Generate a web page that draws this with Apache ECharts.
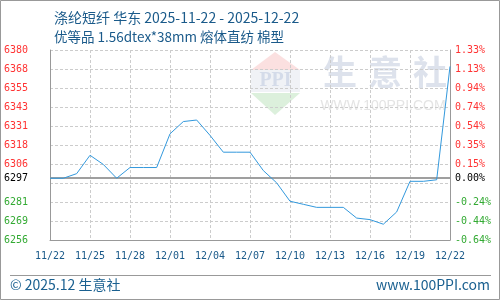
<!DOCTYPE html>
<html><head><meta charset="utf-8">
<script src="https://cdn.jsdelivr.net/npm/echarts@6/dist/echarts.min.js"></script>
<style>html,body{margin:0;padding:0;background:#fff}#c{width:500px;height:300px}</style>
</head><body><div id="c"></div>
<script>
const dates = ['11/22','11/23','11/24','11/25','11/26','11/27','11/28','11/29','11/30','12/01','12/02','12/03','12/04','12/05','12/06','12/07','12/08','12/09','12/10','12/11','12/12','12/13','12/14','12/15','12/16','12/17','12/18','12/19','12/20','12/21','12/22'];
const prices = [6297,6297,6300,6312,6306,6297,6304,6304,6304,6326,6334,6335,6325,6314,6314,6314,6302,6294,6282,6280,6278,6278,6278,6271,6270,6267,6275,6295,6295,6296,6370];
const basePrice = 6297;
const yMin = 6256.7, yMax = 6380.7;
const leftLabels = ['6256','6269','6281','','6306','6318','6331','6343','6355','6368','6380'];
const rightLabels = ['-0.64%','-0.44%','-0.24%','','0.15%','0.35%','0.54%','0.74%','0.94%','1.13%','1.33%'];
const titleLine1 = '涤纶短纤 华东 2025-11-22 - 2025-12-22';
const titleLine2 = '优等品 1.56dtex*38mm 熔体直纺 棉型';

const RED = '#ff3333', GREEN = '#33aa33', BLUE_TXT = '#1a5a8a';
const mono = 'DejaVu Sans Mono';
const chart = echarts.init(document.getElementById('c'), null, {renderer:'canvas'});
chart.setOption({
  animation: false,
  backgroundColor: '#fff',
  title: [
    {text: titleLine1, left: 49, top: 6, textStyle:{fontFamily:'Noto Sans CJK SC', fontSize:14, fontWeight:'normal', color: BLUE_TXT}},
    {text: titleLine2, left: 49, top: 25, textStyle:{fontFamily:'Noto Sans CJK SC', fontSize:13.5, fontWeight:'normal', color: BLUE_TXT}}
  ],
  grid: {left: 50, right: 50, top: 50, bottom: 60},
  xAxis: {
    type: 'category', data: dates, boundaryGap: false,
    axisLine: {lineStyle: {color: '#999'}},
    axisTick: {show: false},
    axisLabel: {interval: 2, color: BLUE_TXT, fontFamily: mono, fontSize: 10, margin: 11},
    splitLine: {show: true, interval: 2, lineStyle: {color: '#ccc', type: [3,2]}}
  },
  yAxis: [
    {type:'value', min: yMin, max: yMax, show: false},
    {type:'value', min: 0, max: 10, interval: 1, position: 'left',
     axisLine: {show: true, lineStyle: {color: '#999'}}, axisTick: {show:false},
     axisLabel: {margin: 22, fontFamily: mono, fontSize: 10,
       formatter: v => leftLabels[Math.round(v)],
       color: v => (v > 3 ? RED : GREEN)},
     splitLine: {show: true, lineStyle: {color: '#ccc', type: [3,2]}}},
    {type:'value', min: 0, max: 10, interval: 1, position: 'right',
     axisLine: {show: true, lineStyle: {color: '#999'}}, axisTick: {show:false},
     axisLabel: {margin: 5, fontFamily: mono, fontSize: 10,
       formatter: v => rightLabels[Math.round(v)],
       color: v => (v > 3 ? RED : GREEN)},
     splitLine: {show: false}}
  ],
  series: [{
    type: 'line', yAxisIndex: 0, data: prices, symbol: 'none',
    lineStyle: {color: '#3399dd', width: 1},
    z: 5,
    markLine: {
      silent: true, symbol: 'none', animation: false,
      lineStyle: {color: '#999', type: 'solid', width: 1.5},
      data: [
        {yAxis: basePrice, label: {show: true, position: 'start', distance: 22, formatter: String(basePrice), color: '#000', fontFamily: mono, fontSize: 10}},
        {yAxis: basePrice, label: {show: true, position: 'end', distance: 5, formatter: '0.00%', color: '#000', fontFamily: mono, fontSize: 10}}
      ]
    }
  }],
  graphic: [
    {type:'rect', shape:{x:0.5,y:0.5,width:499,height:299}, style:{fill:'none', stroke:'#999', lineWidth:1}, z: 100},
    {type:'line', shape:{x1:10,y1:275.5,x2:491,y2:275.5}, style:{stroke:'#999', lineWidth:1}},
    {type:'text', left: 10, top: 278, style:{text:'© 2025.12 生意社', fill:'#1a6090', font:'14px "Noto Sans CJK SC"'}},
    {type:'text', right: 10, top: 278, style:{text:'www.100PPI.com', fill:'#1a6090', font:'14px "Noto Sans CJK SC"'}},
    {type:'group', z: -1, silent: true, children: [
      {type:'polygon', shape:{points:[[251,70],[275,52],[300,70]]}, style:{fill:'#fbe0e0'}},
      {type:'rect', shape:{x:251,y:70,width:49,height:22}, style:{fill:'#f0f2f6'}},
      {type:'text', style:{x:275.5,y:81,text:'PPI', fill:'#d4dbe9', font:'bold 20px "Liberation Serif"', align:'center', verticalAlign:'middle'}},
      {type:'polygon', shape:{points:[[251,93],[300,93],[275,115]]}, style:{fill:'#dcf0dc'}},
      {type:'text', style:{x:340,y:72,text:'生', fill:'#dde2ec', font:'bold 34px "Noto Sans CJK SC"', align:'center', verticalAlign:'middle'}},
      {type:'text', style:{x:385,y:72,text:'意', fill:'#dde2ec', font:'bold 34px "Noto Sans CJK SC"', align:'center', verticalAlign:'middle'}},
      {type:'text', style:{x:430,y:72,text:'社', fill:'#dde2ec', font:'bold 34px "Noto Sans CJK SC"', align:'center', verticalAlign:'middle'}},
      {type:'text', style:{x:383,y:106,text:'WWW.100PPI.COM', fill:'#e4e4e4', font:'14px "Liberation Sans"', align:'center', verticalAlign:'middle'}}
    ]}
  ]
});
</script></body></html>
